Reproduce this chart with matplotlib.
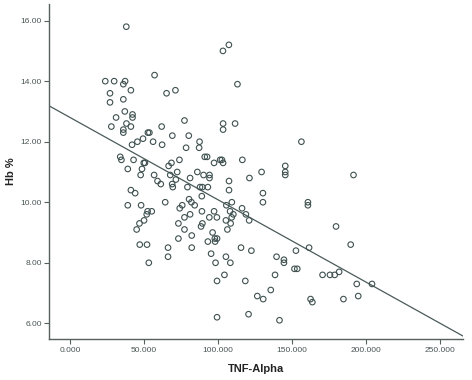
import numpy as np
import matplotlib
matplotlib.use('Agg')
import matplotlib.pyplot as plt
from matplotlib.ticker import FormatStrFormatter

# TNF-Alpha vs Hb %
tnf = [38.0, 23.8, 29.8, 37.2, 36.0, 41.1, 27.0, 27.0, 36.0, 37.0,
       42.2, 42.2, 31.1, 38.1, 27.9, 41.1, 36.0, 36.0, 57.1, 65.2,
       71.2, 77.3, 61.9, 52.6, 53.6, 69.1, 80.2, 41.9, 45.5, 49.3,
       56.1, 62.2, 78.4, 87.5, 87.2, 103.3, 107.3, 113.1, 103.4, 103.4,
       111.5, 156.3,
       33.9, 34.7, 42.9, 39.0, 49.8, 50.6, 48.6, 47.7, 56.8, 59.1,
       61.3, 66.6, 68.5, 73.9, 67.7, 72.4, 69.0, 69.4, 71.5, 81.1,
       79.3, 86.0, 87.8, 89.4, 93.1, 91.0, 92.6, 97.3, 101.4, 102.6,
       103.4, 116.4, 90.2, 94.2, 94.2, 107.4, 121.2, 129.4, 145.4, 145.4,
       145.4, 191.5, 89.0, 107.4,
       41.1, 44.0, 39.0, 48.0, 64.3, 75.8, 74.1, 80.4, 82.0, 84.2,
       105.6, 109.3, 130.3, 130.3, 116.2, 118.8, 121.0, 160.7, 160.7, 52.4,
       55.2, 51.8, 50.0, 46.9, 45.0, 73.2, 77.3, 77.3, 81.1, 89.1,
       89.4, 88.5, 94.1, 97.3, 99.2, 108.1, 110.3, 109.2, 105.3, 108.5,
       106.3, 96.3, 179.7,
       47.1, 52.0, 53.2, 66.2, 66.2, 73.2, 82.2, 82.2, 97.8, 99.3,
       93.1, 98.0, 95.3, 98.3, 99.3, 99.3, 104.3, 105.3, 108.3, 115.5,
       122.5, 139.5, 144.5, 144.5, 152.6, 151.6, 153.5, 138.5, 118.4, 135.6,
       126.5, 130.5, 120.6, 141.5, 161.5, 189.6, 170.6, 175.6, 178.8, 181.8,
       193.7, 204.0, 194.7, 184.7, 162.5, 163.7]
hb = [15.8, 14.0, 14.0, 14.0, 13.9, 13.7, 13.6, 13.3, 13.4, 13.0,
      12.9, 12.8, 12.8, 12.6, 12.5, 12.5, 12.4, 12.3, 14.2, 13.6,
      13.7, 12.7, 12.5, 12.3, 12.3, 12.2, 12.2, 11.9, 12.0, 12.1,
      12.0, 11.9, 11.8, 12.0, 11.8, 15.0, 15.2, 13.9, 12.6, 12.4,
      12.6, 12.0,
      11.5, 11.4, 11.4, 11.1, 11.3, 11.3, 11.1, 10.9, 10.9, 10.7,
      10.6, 11.2, 11.3, 11.4, 10.9, 11.0, 10.6, 10.5, 10.75, 10.8,
      10.5, 11.0, 10.5, 10.5, 10.5, 11.5, 11.5, 11.3, 11.4, 11.4,
      11.3, 11.4, 10.9, 10.9, 10.8, 10.7, 10.8, 11.0, 11.2, 11.0,
      10.9, 10.9, 10.2, 10.4,
      10.4, 10.3, 9.9, 9.9, 10.0, 9.9, 9.8, 10.1, 10.0, 9.9,
      9.9, 10.0, 10.3, 10.0, 9.8, 9.6, 9.4, 10.0, 9.9, 9.7,
      9.7, 9.6, 9.4, 9.3, 9.1, 9.3, 9.1, 9.5, 9.6, 9.7,
      9.3, 9.2, 9.5, 9.7, 9.5, 9.7, 9.6, 9.5, 9.4, 9.3,
      9.1, 9.0, 9.2,
      8.6, 8.6, 8.0, 8.5, 8.2, 8.8, 8.9, 8.5, 8.8, 8.8,
      8.7, 8.7, 8.3, 8.0, 7.4, 6.2, 7.6, 8.2, 8.0, 8.5,
      8.4, 8.2, 8.1, 8.0, 8.4, 7.8, 7.8, 7.6, 7.4, 7.1,
      6.9, 6.8, 6.3, 6.1, 8.5, 8.6, 7.6, 7.6, 7.6, 7.7,
      7.3, 7.3, 6.9, 6.8, 6.8, 6.7]

# fit line as drawn in the picture
fit_intercept = 12.80
fit_slope = -0.0272

x_ticks = [0, 50, 100, 150, 200, 250]
y_ticks = [6, 8, 10, 12, 14, 16]

ink = '#3f5050'
plt.rcParams['font.family'] = ['Liberation Sans', 'DejaVu Sans']

fig = plt.figure(figsize=(4.72, 3.80), dpi=100)
ax = fig.add_axes([0.1045, 0.107, 0.8765, 0.8825])

ax.scatter(tnf, hb, s=16, facecolors='none', edgecolors=ink, linewidths=0.8, zorder=3)

xmin, xmax = -14, 265.5
xs = np.array([xmin, xmax])
ax.plot(xs, fit_intercept + fit_slope * xs, color='#4a5a5a', lw=0.9, zorder=2)

ax.set_xlim(xmin, xmax)
ax.set_ylim(5.47, 16.55)
ax.set_xticks(x_ticks)
ax.set_yticks(y_ticks)
ax.xaxis.set_major_formatter(FormatStrFormatter('%.3f'))
ax.yaxis.set_major_formatter(FormatStrFormatter('%.2f'))

for s in ['top', 'right']:
    ax.spines[s].set_visible(False)
for s in ['left', 'bottom']:
    ax.spines[s].set_color('#55605f')
    ax.spines[s].set_linewidth(1.0)

ax.tick_params(axis='both', labelsize=6, colors='#55605f', labelcolor='#4a5555',
               length=3.5, width=0.8, pad=2)

ax.set_xlabel('TNF-Alpha', fontsize=8, fontweight='bold', color='#222', labelpad=7)
ax.set_ylabel('Hb %', fontsize=8, fontweight='bold', color='#222', labelpad=3)

fig.savefig('out.png', dpi=100)
